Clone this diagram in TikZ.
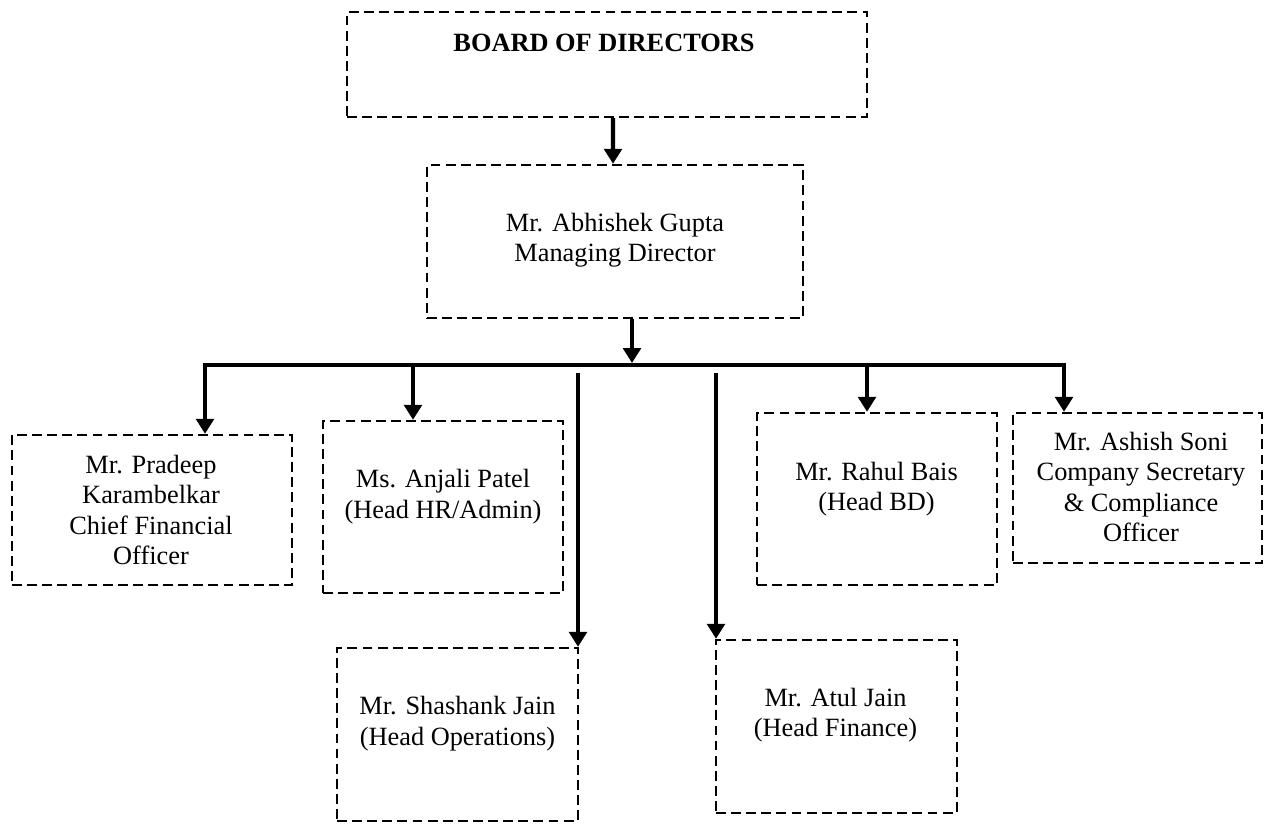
\documentclass[tikz,border=0pt]{standalone}
\usepackage{fontspec}
\setmainfont{Liberation Serif}
\usetikzlibrary{arrows.meta}

\tikzstyle{org_style}=[x=0.02cm, y=-0.02cm,
  box/.style={rectangle, draw, line width=1.4pt, dash pattern=on 5.6pt off 3pt},
  txt/.style={align=center, inner sep=0pt, font=\fontsize{15}{17.4}\selectfont},
  title/.style={txt, font=\fontsize{15}{17.4}\selectfont\bfseries},
  branch/.style={-{Triangle[width=10pt,length=8.5pt]}, line width=2.4pt},
  bar/.style={line width=2.4pt},
  shadow/.style={draw=gray!55, line width=2.2pt, yshift=-2pt}]

\begin{document}
\begin{tikzpicture}[org_style]
    \useasboundingbox (0,0) rectangle (1266,823);

    % Draw the board and the managing director
    \node[box, minimum width=10.4cm, minimum height=2.1cm] (bod) at (607,64.5) {};
    \node[title] (bod-txt) at (604,43) {BOARD OF DIRECTORS};

    \node[box, minimum width=7.52cm, minimum height=3.06cm] (md) at (615,241.5) {};
    \node[txt] (md-txt) at (615,240) {Mr. Abhishek Gupta\\Managing Director};

    % Draw the heads
    \node[box, minimum width=5.6cm, minimum height=3cm] (cfo) at (152,510) {};
    \node[txt] (cfo-txt) at (151,510) {Mr. Pradeep\\Karambelkar\\Chief Financial\\Officer};

    \node[box, minimum width=4.8cm, minimum height=3.44cm] (hr) at (443,507) {};
    \node[txt] (hr-txt) at (443,496.5) {Ms. Anjali Patel\\(Head HR/Admin)};

    \node[box, minimum width=4.82cm, minimum height=3.46cm] (ops) at (457.5,734.5) {};
    \node[txt] (ops-txt) at (457.5,723.5) {Mr. Shashank Jain\\(Head Operations)};

    \node[box, minimum width=4.82cm, minimum height=3.46cm] (fin) at (836.5,726.5) {};
    \node[txt] (fin-txt) at (835.5,715) {Mr. Atul Jain\\(Head Finance)};

    \node[box, minimum width=4.8cm, minimum height=3.44cm] (bd) at (877,499) {};
    \node[txt] (bd-txt) at (876.5,489) {Mr. Rahul Bais\\(Head BD)};

    \node[box, minimum width=4.98cm, minimum height=3cm] (cs) at (1137.5,488) {};
    \node[txt] (cs-txt) at (1141,487) {Mr. Ashish Soni\\Company Secretary\\\& Compliance\\Officer};

    % The bar with its shadow
    \coordinate (bar-l) at (203,365);
    \coordinate (bar-r) at (1066,365);
    \draw[shadow] (bar-l) -- (bar-r);
    \draw[bar] (bar-l) -- (bar-r);

    % Connect board -> md -> bar
    \draw[branch] ([xshift=0.12cm]bod.south) -- ([xshift=-0.04cm]md.north);
    \coordinate (J-md) at (632,363);
    \draw[branch] (md.south -| J-md) -- (J-md);

    % Connect the bar with every head
    \foreach \dest / \x in {cfo/205, hr/413, bd/867, cs/1064}
    {
        \coordinate (J-\dest) at (\x,363);
        \draw[branch] (J-\dest) -- (\dest.north -| J-\dest);
    }
    % these two start just under the bar
    \foreach \dest / \x in {ops/578, fin/716}
    {
        \coordinate (J-\dest) at (\x,373);
        \draw[branch] (J-\dest) -- (\dest.north -| J-\dest);
    }

\end{tikzpicture}
\end{document}
